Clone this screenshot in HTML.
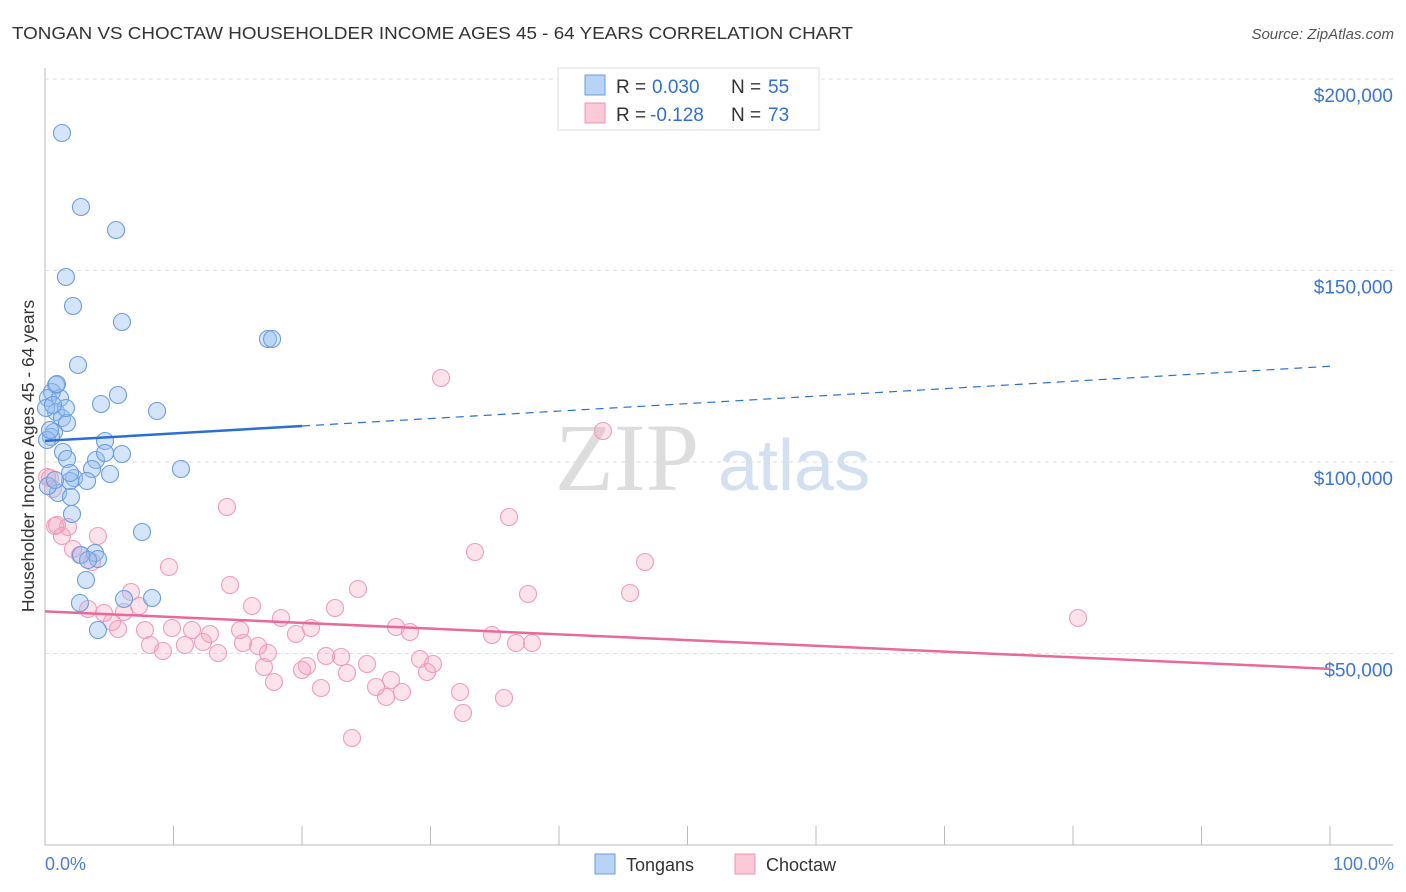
<!DOCTYPE html>
<html><head><meta charset="utf-8"><style>
body{margin:0;background:#fff;font-family:"Liberation Sans",sans-serif}
svg{display:block}
</style></head><body>
<svg id="chart" width="1406" height="892">
<text x="12" y="39" font-size="17.5" fill="#333" textLength="841" lengthAdjust="spacingAndGlyphs">TONGAN VS CHOCTAW HOUSEHOLDER INCOME AGES 45 - 64 YEARS CORRELATION CHART</text>
<text x="1394" y="39" font-size="15" fill="#555" font-style="italic" text-anchor="end">Source: ZipAtlas.com</text>
<text x="555" y="490" font-size="96" fill="#ddd" font-family="Liberation Serif,serif">ZIP</text>
<text x="718" y="490" font-size="72" fill="#d3e0f2">atlas</text>
<g id="grid"></g>
<g id="pts"></g>
<g id="trend"></g>
<text transform="translate(34,456) rotate(-90)" font-size="17.5" fill="#333" text-anchor="middle">Householder Income Ages 45 - 64 years</text>
<text x="45" y="870" font-size="18" fill="#4a7fd6">0.0%</text>
<text x="1394" y="870" font-size="18" fill="#4a7fd6" text-anchor="end">100.0%</text>
<g>
<rect x="558" y="68" width="261" height="62" fill="#fff" stroke="#ddd"/>
<rect x="585" y="75" width="20" height="20" fill="#b9d3f4" stroke="#6a9de0"/>
<rect x="585" y="103" width="20" height="20" fill="#fbc9d8" stroke="#ee94b1"/>
<text x="616" y="93" font-size="19" fill="#333">R =</text>
<text x="652" y="93" font-size="19" fill="#2f6fd8">0.030</text>
<text x="731" y="93" font-size="19" fill="#333">N =</text>
<text x="768" y="93" font-size="19" fill="#2f6fd8">55</text>
<text x="616" y="121" font-size="19" fill="#333">R =</text>
<text x="650" y="121" font-size="19" fill="#2f6fd8">-0.128</text>
<text x="731" y="121" font-size="19" fill="#333">N =</text>
<text x="768" y="121" font-size="19" fill="#2f6fd8">73</text>
</g>
<g>
<rect x="595" y="854" width="20" height="20" fill="#b9d3f4" stroke="#6a9de0"/>
<text x="626" y="871" font-size="18" fill="#333">Tongans</text>
<rect x="735" y="854" width="20" height="20" fill="#fbc9d8" stroke="#ee94b1"/>
<text x="766" y="871" font-size="18" fill="#333">Choctaw</text>
</g>
</svg>
<script>
const yTicks=[50000,100000,150000,200000];
const yTickLabels=["$50,000","$100,000","$150,000","$200,000"];
const xTicks=[0,10,20,30,40,50,60,70,80,90,100];
const bluePx=[[62,133],[81,207],[116,230],[66,277],[73,306],[122,322],[268,339],[272,339],[78,365],[56,385],[52,392],[48,398],[60,398],[101,404],[118,395],[157,411],[56,412],[62,418],[67,423],[54,432],[105,441],[51,437],[47,440],[63,452],[67,459],[96,460],[105,453],[122,454],[92,469],[181,469],[110,474],[74,478],[87,481],[70,481],[58,493],[71,497],[48,486],[72,514],[142,532],[95,553],[81,555],[98,559],[88,560],[86,580],[124,599],[152,598],[80,603],[98,630],[50,430],[46,408],[55,480],[70,473],[57,384],[66,408],[53,405]];
const pinkPx=[[47,477],[53,489],[55,526],[68,527],[62,536],[98,536],[73,549],[80,555],[92,562],[227,507],[169,567],[131,592],[230,585],[88,609],[104,613],[112,622],[118,629],[124,612],[139,606],[145,630],[150,645],[163,651],[172,628],[185,645],[192,630],[203,642],[210,634],[218,653],[240,630],[252,606],[243,643],[258,646],[264,667],[268,653],[274,682],[281,618],[296,634],[302,670],[307,666],[311,628],[321,688],[326,656],[335,608],[341,657],[347,673],[352,738],[358,589],[367,664],[376,687],[386,697],[391,680],[396,627],[402,692],[410,632],[420,659],[427,672],[433,664],[441,378],[460,692],[463,713],[475,552],[492,635],[504,698],[509,517],[516,643],[528,594],[532,643],[603,431],[630,593],[645,562],[1078,618],[50,478],[57,525]];
const blueX=bluePx.map(p=>+((p[0]-45)/12.85).toFixed(2));
const blueY=bluePx.map(p=>Math.round(100000+(462-p[1])*50000/191.5));
const pinkX=pinkPx.map(p=>+((p[0]-45)/12.85).toFixed(2));
const pinkY=pinkPx.map(p=>Math.round(100000+(462-p[1])*50000/191.5));
const blueTrend=[105500,125000];
const pinkTrend=[61000,46000];
const X=v=>45+v*12.85, Y=v=>462-(v-100000)*191.5/50000;
const NS="http://www.w3.org/2000/svg";
function mk(t,a,p){const e=document.createElementNS(NS,t);for(const k in a)e.setAttribute(k,a[k]);p.appendChild(e);return e;}
const g=document.getElementById('grid');
mk('line',{x1:45,y1:68,x2:45,y2:845,stroke:'#bbb'},g);
mk('line',{x1:45,y1:845,x2:1393,y2:845,stroke:'#bbb'},g);
yTicks.forEach((t,i)=>{
 const l=mk('line',{x1:45,y1:Y(t),x2:1393,y2:Y(t),stroke:'#ddd','stroke-dasharray':'4,4'},g);
 
 
 const tx=mk('text',{x:1393,y:Y(t)+23,'font-size':19,fill:'#3a75d6','text-anchor':'end'},g);
 tx.textContent=yTickLabels[i];
 
 
});
mk('line',{x1:45,y1:79,x2:1393,y2:79,stroke:'#ddd','stroke-dasharray':'4,4'},g);
xTicks.forEach(t=>{
 const l=mk('line',{x1:X(t),y1:826,x2:X(t),y2:845,stroke:'#bbb'},g);
 
 
});
const P=document.getElementById('pts');
pinkX.forEach((x,i)=>{
 const c=mk('circle',{cx:X(x),cy:Y(pinkY[i]),r:8.5,fill:'rgba(246,160,188,0.3)',stroke:'#f09cb8','stroke-width':1.1},P);
 
 
});
blueX.forEach((x,i)=>{
 const c=mk('circle',{cx:X(x),cy:Y(blueY[i]),r:8.5,fill:'rgba(150,190,240,0.4)',stroke:'#6a9de0','stroke-width':1.1},P);
 
 
});
const T=document.getElementById('trend');
const bAt=x=>blueTrend[0]+(blueTrend[1]-blueTrend[0])*x/100;
let l=mk('line',{x1:X(0),y1:Y(bAt(0)),x2:X(20),y2:Y(bAt(20)),stroke:'#2a6fd6','stroke-width':2.5},T);


l=mk('line',{x1:X(20),y1:Y(bAt(20)),x2:X(100),y2:Y(bAt(100)),stroke:'#2a6fd6','stroke-width':1.2,'stroke-dasharray':'8,6'},T);


l=mk('line',{x1:X(0),y1:Y(pinkTrend[0]),x2:X(100),y2:Y(pinkTrend[1]),stroke:'#e8699a','stroke-width':2.5},T);


</script>
</body></html>
